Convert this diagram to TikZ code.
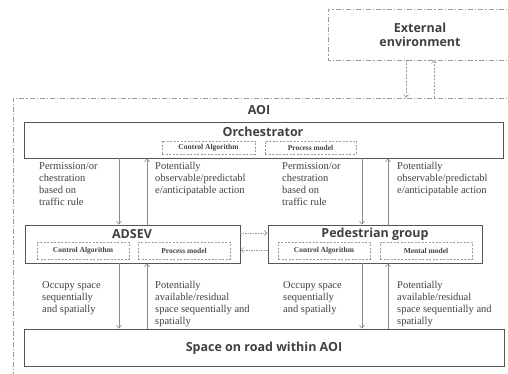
\documentclass[tikz,border=0pt]{standalone}
\usepackage{fontspec}
\setmainfont{Liberation Serif}
\newfontfamily\titlefont{Open Sans}
\usetikzlibrary{arrows.meta}
\definecolor{txt}{HTML}{404040}
\definecolor{boxc}{HTML}{555555}
\definecolor{lite}{HTML}{9A9A9A}
\definecolor{arr}{HTML}{8A8A8A}
\tikzset{
  dashdot/.style={draw=lite, line width=0.8pt, dash pattern=on 5pt off 2pt on 1.2pt off 2pt},
  mainbox/.style={draw=boxc, line width=0.9pt},
  subbox/.style={draw=lite, line width=0.6pt, dash pattern=on 2pt off 1.5pt},
  ttl/.style={font=\titlefont\bfseries\fontsize{12.5}{14}\selectfont, text=txt, inner sep=0pt},
  subtxt/.style={font=\bfseries\fontsize{7.5}{9}\selectfont, text=txt, inner sep=0pt},
  lbl/.style={font=\fontsize{10.5}{12}\selectfont, text=txt, align=left, anchor=base west, inner sep=0pt},
  varr/.style={draw=arr, line width=0.6pt, -{Straight Barb[length=3pt,width=5pt]}},
  earr/.style={draw=lite, line width=0.6pt, dash pattern=on 2pt off 1.5pt, -{Straight Barb[length=3pt,width=5pt]}},
  harr/.style={draw=lite, line width=0.6pt, dash pattern=on 1.5pt off 1pt, -{Straight Barb[length=3pt,width=5pt]}},
}
\begin{document}
\begin{tikzpicture}[x=1pt, y=-1pt]
\useasboundingbox (0,0) rectangle (508,374);
% external environment
\draw[dashdot] (514,9) -- (328,9) -- (328,60) -- (514,60);
\node[ttl, align=center] (ext) at (420,35) {External\\environment};
% AOI
\draw[dashdot] (514,98) -- (13,98) -- (13,380);
\node[ttl] (aoi) at (259,110) {AOI};
\coordinate (e1) at (406,60);
\coordinate (a1) at (406,98);
\coordinate (e2) at (434,60);
\coordinate (a2) at (434,98);
\draw[earr] (e1) -- (a1);
\draw[earr] (a2) -- (e2);
% Orchestrator
\node[mainbox, minimum width=479pt, minimum height=36pt, inner sep=0pt] (orc) at (263.5,140) {};
\node[ttl] (orct) at (263,131.5) {Orchestrator};
\node[subbox, minimum width=93pt, minimum height=13pt, inner sep=0pt] (orcca) at (208.5,147.5) {};
\node[subtxt] at (orcca) {Control Algorithm};
\node[subbox, minimum width=91pt, minimum height=13pt, inner sep=0pt] (orcpm) at (310.5,147.5) {};
\node[subtxt] at (orcpm) {Process model};
% ADSEV
\node[mainbox, minimum width=215pt, minimum height=38pt, inner sep=0pt] (ads) at (132.5,244) {};
\node[ttl] (adst) at (132,234.5) {ADSEV};
\node[subbox, minimum width=92pt, minimum height=17pt, inner sep=0pt] (adsca) at (83,250.5) {};
\node[subtxt] at (adsca) {Control Algorithm};
\node[subbox, minimum width=92pt, minimum height=17pt, inner sep=0pt] (adspm) at (184,250.5) {};
\node[subtxt] at (adspm) {Process model};
% Pedestrian group
\node[mainbox, minimum width=214pt, minimum height=38pt, inner sep=0pt] (ped) at (375,244) {};
\node[ttl] (pedt) at (375,234.5) {Pedestrian group};
\node[subbox, minimum width=92pt, minimum height=17pt, inner sep=0pt] (pedca) at (324,250.5) {};
\node[subtxt] at (pedca) {Control Algorithm};
\node[subbox, minimum width=92pt, minimum height=17pt, inner sep=0pt] (pedmm) at (426,250.5) {};
\node[subtxt] at (pedmm) {Mental model};
% Space on road
\node[mainbox, minimum width=480pt, minimum height=37pt, inner sep=0pt] (road) at (264,347.5) {};
\node[ttl] (roadt) at (264,348) {Space on road within AOI};
% vertical arrows
\draw[varr] (orc.south -| 119,0) -- (ads.north -| 119,0);
\draw[varr] (ads.north -| 147,0) -- (orc.south -| 147,0);
\draw[varr] (orc.south -| 362,0) -- (ped.north -| 362,0);
\draw[varr] (ped.north -| 388,0) -- (orc.south -| 388,0);
\draw[varr] (ads.south -| 119,0) -- (road.north -| 119,0);
\draw[varr] (road.north -| 147,0) -- (ads.south -| 147,0);
\draw[varr] (ped.south -| 362,0) -- (road.north -| 362,0);
\draw[varr] (road.north -| 388,0) -- (ped.south -| 388,0);
% horizontal arrows
\draw[harr] (ads.east |- 0,233) -- (ped.west |- 0,233);
\draw[harr] (ped.west |- 0,250) -- (ads.east |- 0,250);
% labels (base anchor = last line's baseline)
\node[lbl] at (39,205.5) {Permission/or\\chestration\\based on\\traffic rule};
\node[lbl] at (155,193.5) {Potentially\\observable/predictabl\\e/anticipatable action};
\node[lbl] at (282,205.5) {Permission/or\\chestration\\based on\\traffic rule};
\node[lbl] at (397,193.5) {Potentially\\observable/predictabl\\e/anticipatable action};
\node[lbl] at (42,312.5) {Occupy space\\sequentially\\and spatially};
\node[lbl] at (155,324.5) {Potentially\\available/residual\\space sequentially and\\spatially};
\node[lbl] at (283,312.5) {Occupy space\\sequentially\\and spatially};
\node[lbl] at (397,324.5) {Potentially\\available/residual\\space sequentially and\\spatially};
\end{tikzpicture}
\end{document}
